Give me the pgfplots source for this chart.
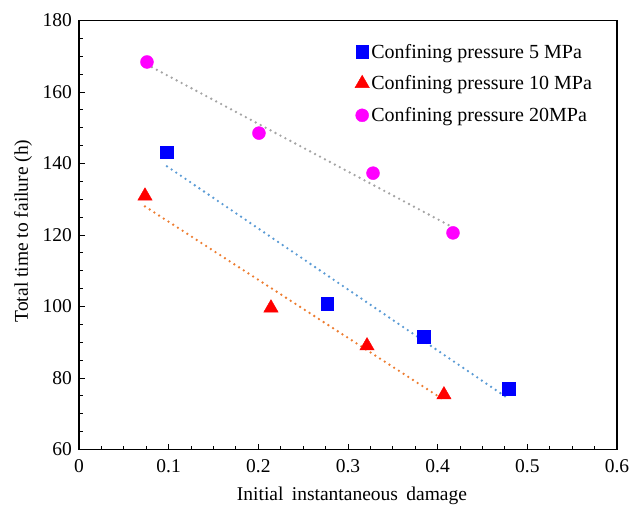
\documentclass[border=0pt]{standalone}
\usepackage{fontspec}
\setmainfont{Liberation Serif}
\usepackage{pgfplots}
\usepackage{pgfplotstable}
\pgfplotsset{compat=1.18}
\definecolor{sqblue}{RGB}{0,0,255}
\definecolor{trired}{RGB}{255,0,0}
\definecolor{cirmag}{RGB}{255,0,255}
\definecolor{lblue}{RGB}{91,155,213}
\definecolor{lorange}{RGB}{237,125,49}
\definecolor{lgray}{RGB}{165,165,165}

\pgfplotstableread{
x y
0.0981 143.2
0.2766 100.7
0.3847 91.5
0.4795 77.0
}\datablue
\pgfplotstableread{
x y
0.0736 130.9
0.2141 99.6
0.3212 89.0
0.4070 75.3
}\datared
\pgfplotstableread{
x y
0.0758 168.4
0.2007 148.5
0.3279 137.3
0.4171 120.6
}\datamag

\begin{document}
\begin{tikzpicture}
\begin{axis}[
 name=ax,
 scale only axis, width=538pt, height=429pt,
 xmin=0, xmax=0.6, ymin=60, ymax=180,
 xtick={0,0.1,0.2,0.3,0.4,0.5,0.6},
 xticklabels={0,0.1,0.2,0.3,0.4,0.5,0.6},
 ytick={60,80,100,120,140,160,180},
 minor x tick num=3, minor y tick num=3,
 tick align=inside, xtick pos=bottom, ytick pos=left,
 major tick length=5.5pt, minor tick length=4pt,
 axis line style={line width=1.1pt},
 tick style={black, line width=0.9pt},
 font=\fontsize{19.5}{23}\selectfont,
 tick label style={font=\fontsize{19.5}{23}\selectfont},
 /pgf/number format/assume math mode=true,
 xticklabel style={yshift=-6pt},
 yticklabel style={xshift=-3.5pt},
 xlabel={Initial\hspace{0.43em}instantaneous\hspace{0.43em}damage},
 ylabel={Total time to failure (h)},
 xlabel style={at={(axis description cs:0.5074,-0.1177)}, anchor=base},
 ylabel style={at={(axis description cs:-0.0948,0.5093)}, anchor=base},
 legend style={at={(axis description cs:0.5130,0.950)}, anchor=north west,
   draw=none, fill=none, inner sep=0pt, outer sep=0pt, row sep=12.2pt,
   nodes={inner xsep=2pt, inner ysep=2pt},
   font=\fontsize{20}{23}\selectfont},
 legend cell align=left,
 legend image code/.code={\draw[#1] plot coordinates {(0pt,0pt)};},
]
\addplot[only marks, mark=square*, mark size=6.3pt, color=sqblue] table[x=x,y=y] {\datablue};
\addlegendentry{Confining pressure 5 MPa}
\addplot[only marks, mark=triangle*, mark size=8.3pt, color=trired] table[x=x,y=y] {\datared};
\addlegendentry{Confining pressure 10 MPa}
\addplot[only marks, mark=*, mark size=6.5pt, color=cirmag] table[x=x,y=y] {\datamag};
\addlegendentry{Confining pressure 20MPa}

\addplot[forget plot, no marks, color=lblue, line width=2.6pt, line cap=round, dash pattern=on 0pt off 5.6pt] table[x=x, y={create col/linear regression={y=y}}] {\datablue};
\addplot[forget plot, no marks, color=lorange, line width=2.6pt, line cap=round, dash pattern=on 0pt off 5.6pt] table[x=x, y={create col/linear regression={y=y}}] {\datared};
\addplot[forget plot, no marks, color=lgray, line width=2.6pt, line cap=round, dash pattern=on 0pt off 5.6pt] table[x=x, y={create col/linear regression={y=y}}] {\datamag};
\end{axis}
\pgfresetboundingbox
\useasboundingbox ([xshift=-79pt,yshift=-58.5pt]ax.south west) rectangle ([xshift=15pt,yshift=20.5pt]ax.north east);
\end{tikzpicture}
\end{document}
